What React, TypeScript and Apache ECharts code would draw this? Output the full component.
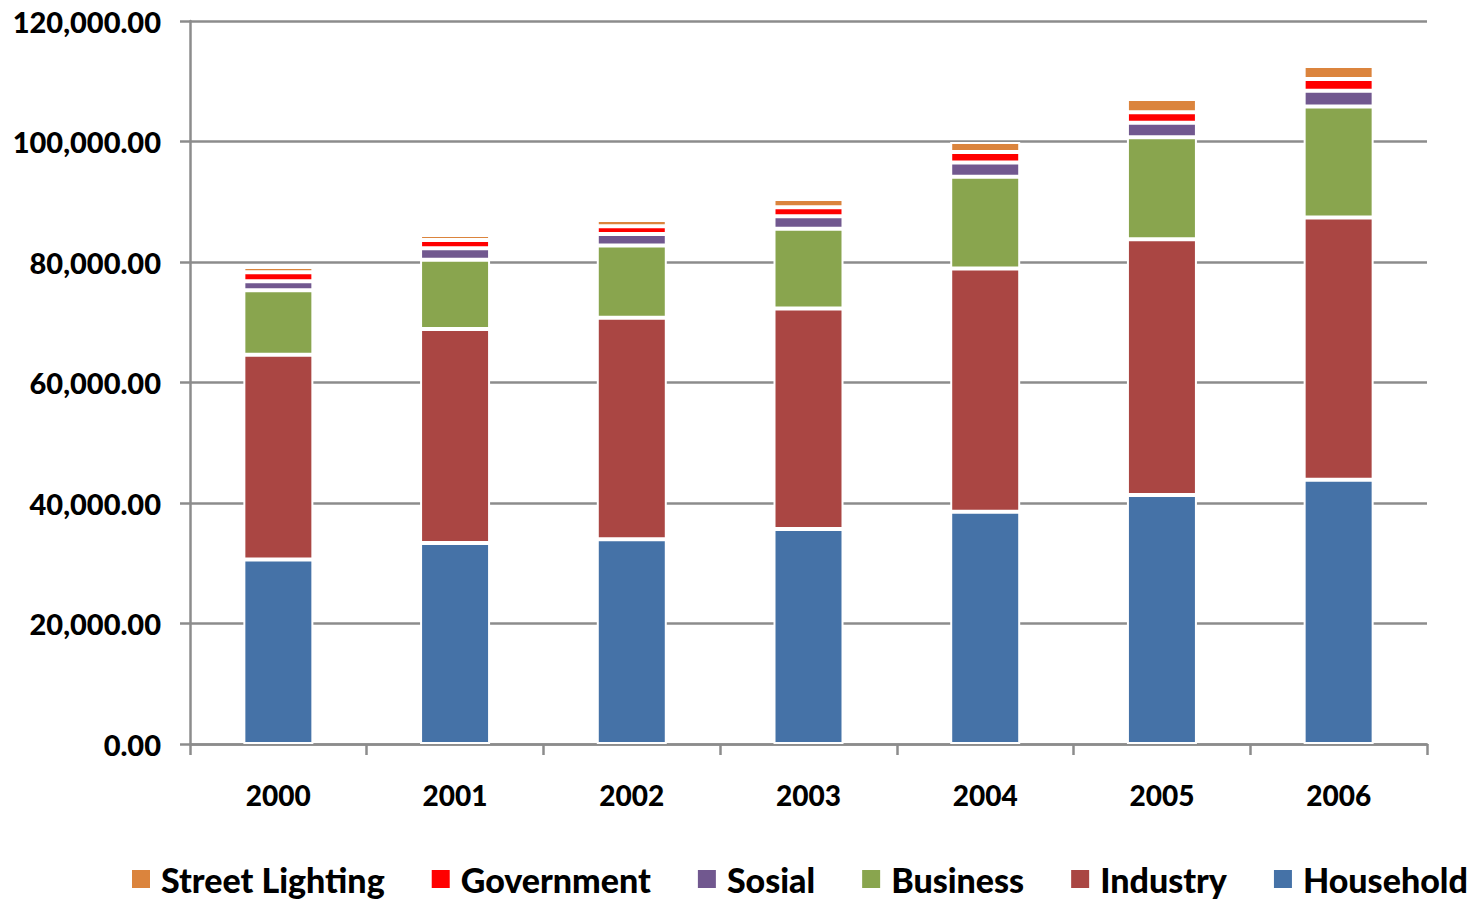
import React, { useEffect, useRef } from "react";
import * as echarts from "echarts";

const years = ["2000", "2001", "2002", "2003", "2004", "2005", "2006"];
const household = [30620, 33360, 33990, 35680, 38560, 41330, 43870];
const industry = [33990, 35520, 36750, 36620, 40360, 42450, 43510];
const business = [10690, 11500, 12000, 13210, 15230, 16930, 18420];
const sosial = [1500, 1890, 1900, 2070, 2360, 2420, 2630];
const government = [1490, 1380, 1280, 1490, 1740, 1730, 1940];
const streetLighting = [880, 830, 1050, 1380, 1660, 2190, 2160];
const legendOrder = ["Street Lighting", "Government", "Sosial", "Business", "Industry", "Household"];

const FONT = "Lato";

export default function App() {
  const ref = useRef<HTMLDivElement>(null);
  useEffect(() => {
    const chart = echarts.init(ref.current!, null, { renderer: "svg" });
    const mk = (name: string, data: number[], color: string) => ({
      name,
      type: "bar",
      stack: "total",
      data,
      barWidth: 70,
      itemStyle: { color, borderColor: "#ffffff", borderWidth: 2 },
    });
    chart.setOption({
      animation: false,
      backgroundColor: "#ffffff",
      grid: { left: 190, right: 48, top: 21, bottom: 157 },
      legend: {
        data: legendOrder,
        left: 130,
        top: 861,
        width: 1345,
        padding: 0,
        itemWidth: 20,
        itemHeight: 20,
        itemGap: 45,
        icon: "rect",
        textStyle: {
          fontFamily: FONT,
          fontWeight: 900,
          fontSize: 34,
          lineHeight: 36,
          color: "#000",
          padding: [0, 0, 0, 5],
        },
      },
      xAxis: {
        type: "category",
        data: years,
        axisLine: { lineStyle: { color: "#8c8c8c", width: 2.5 } },
        axisTick: { show: true, length: 11, lineStyle: { color: "#8c8c8c", width: 2.5 } },
        axisLabel: { margin: 37, fontFamily: FONT, fontWeight: 900, fontSize: 28, color: "#000" },
      },
      yAxis: {
        type: "value",
        min: 0,
        max: 120000,
        interval: 20000,
        axisLine: { show: true, lineStyle: { color: "#8c8c8c", width: 2.5 } },
        axisTick: { show: true, length: 10, lineStyle: { color: "#8c8c8c", width: 2.5 } },
        splitLine: { show: true, lineStyle: { color: "#8c8c8c", width: 2.5 } },
        axisLabel: {
          margin: 29,
          fontFamily: FONT,
          fontWeight: 900,
          fontSize: 29,
          color: "#000",
          formatter: (v: number) =>
            v.toLocaleString("en-US", { minimumFractionDigits: 2, maximumFractionDigits: 2 }),
        },
      },
      series: [
        mk("Household", household, "#4572A7"),
        mk("Industry", industry, "#AA4643"),
        mk("Business", business, "#89A54E"),
        mk("Sosial", sosial, "#71588F"),
        mk("Government", government, "#FF0000"),
        mk("Street Lighting", streetLighting, "#DB843D"),
      ],
    });
    return () => chart.dispose();
  }, []);
  return (
    <div
      ref={ref}
      style={{ position: "absolute", left: 0, top: 0, width: 1475, height: 901 }}
    />
  );
}
